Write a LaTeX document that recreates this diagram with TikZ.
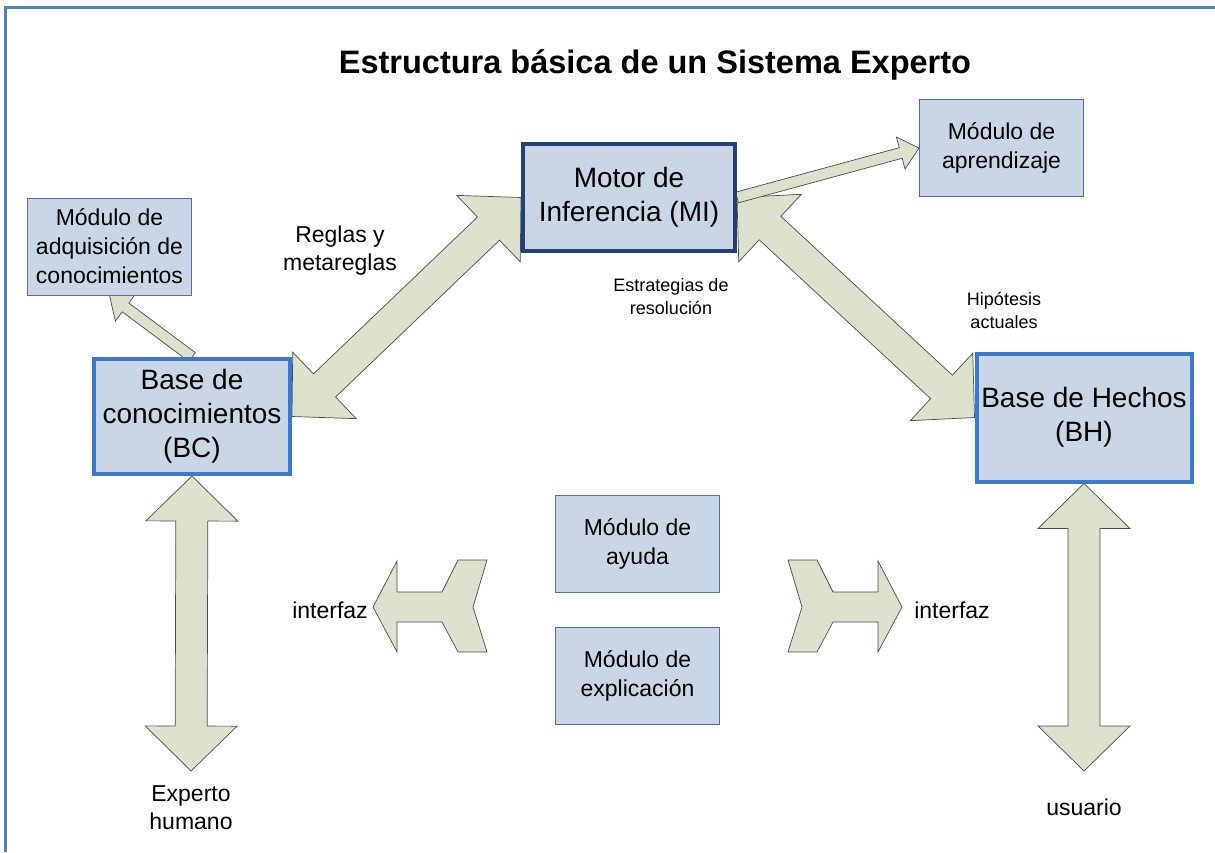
\documentclass[tikz,border=0pt]{standalone}
\usepackage{fontspec}
\setmainfont{Liberation Sans}
\usepackage{tikz}
\usetikzlibrary{calc,backgrounds,positioning}
\definecolor{modfill}{RGB}{201,214,230}
\definecolor{modline}{RGB}{79,112,160}
\definecolor{miline}{RGB}{36,64,116}
\definecolor{baseline}{RGB}{58,121,205}
\definecolor{arrowfill}{RGB}{221,225,203}
\definecolor{frameline}{RGB}{79,129,189}
\tikzset{
  module/.style={draw=modline, fill=modfill, line width=0.9pt, minimum width=164pt, minimum height=97pt, align=center, inner sep=0pt, font=\fontsize{23}{29}\selectfont},
  mainbox/.style={draw=#1, fill=modfill, line width=4pt, align=center, inner sep=0pt, font=\fontsize{28}{34}\selectfont},
  blockarrow/.style={draw=black!70, fill=arrowfill, line width=0.7pt, line join=miter},
  lbl/.style={align=center, inner sep=0pt, font=\fontsize{23}{28}\selectfont},
  smalllbl/.style={align=center, inner sep=0pt, font=\fontsize{18}{23}\selectfont},
}
% block arrow with two heads: #1,#2 tips, #3 half shaft, #4 half head, #5 head length
\newcommand\dblarrow[5]{%
  \path ($(#1)!#5!(#2)$) coordinate (da) ($(#2)!#5!(#1)$) coordinate (db);
  \draw[blockarrow] (#1) -- ($(da)!#4!90:(#2)$) -- ($(da)!#3!90:(#2)$)
    -- ($(db)!#3!-90:(#1)$) -- ($(db)!#4!-90:(#1)$) -- (#2)
    -- ($(db)!#4!90:(#1)$) -- ($(db)!#3!90:(#1)$)
    -- ($(da)!#3!-90:(#2)$) -- ($(da)!#4!-90:(#2)$) -- cycle;}
% block arrow with one head at #2
\newcommand\sglarrow[5]{%
  \path ($(#2)!#5!(#1)$) coordinate (db);
  \draw[blockarrow] ($(#1)!#3!90:(#2)$) -- ($(db)!#3!-90:(#1)$)
    -- ($(db)!#4!-90:(#1)$) -- (#2) -- ($(db)!#4!90:(#1)$)
    -- ($(db)!#3!90:(#1)$) -- ($(#1)!#3!-90:(#2)$) -- cycle;}

\begin{document}
\begin{tikzpicture}[x=1pt, y=-1pt]
      \useasboundingbox (0,0) rectangle (1215,852);
      \draw[frameline, line width=3pt] (5,852) -- (5,7) -- (1215,7);

      \node[font=\fontsize{32.5}{38}\selectfont\bfseries] (title) at (655,65) {Estructura básica de un Sistema Experto};

      \node[mainbox=miline, minimum width=212pt, minimum height=107pt] (mi) at (629,197.5) {Motor de\\Inferencia (MI)};
      \node[mainbox=baseline, minimum width=196pt, minimum height=115pt] (bc) at (192,416.5) {Base de\\conocimientos\\(BC)};
      \node[mainbox=baseline, minimum width=215pt, minimum height=128pt] (bh) at (1084,417.5) {Base de Hechos\\(BH)};

      \node[module] (adq) at (109.5,246.5) {Módulo de\\adquisición de\\conocimientos};
      \node[module] (apr) at (1001.5,148) {Módulo de\\aprendizaje};
      \node[module] (ayuda) at (637.5,544) {Módulo de\\ayuda};
      \node[module] (expl) at (637.5,675.5) {Módulo de\\explicación};

      \node[lbl] (reglas) at (340,251) {Reglas y\\metareglas};
      \node[smalllbl] (estrat) at (671,297) {Estrategias de\\resolución};
      \node[smalllbl] (hipot) at (1004,310) {Hipótesis\\actuales};
      \node[lbl] (intizq) at (330,610) {interfaz};
      \node[lbl] (intder) at (952,610) {interfaz};
      \node[lbl] (experto) at (191,808) {Experto\\humano};
      \node[lbl] (usuario) at (1084,807) {usuario};

      \coordinate (bcfoot) at (191,771);
      \coordinate (bhfoot) at (1084,771);

      \begin{scope}[on background layer]
        \dblarrow{bc.east}{mi.west}{16pt}{46pt}{45pt}
        \dblarrow{mi.east}{bh.west}{16pt}{46pt}{45pt}
        \dblarrow{bc.south}{bcfoot}{16pt}{46pt}{45pt}
        \dblarrow{bh.south}{bhfoot}{16pt}{46pt}{45pt}
        \sglarrow{bc.north}{adq.south}{5.5pt}{17pt}{20pt}
        \sglarrow{mi.east}{apr.west}{5.5pt}{16.5pt}{19pt}
      \end{scope}

      % interfaz arrows, the right one mirrored
      \foreach \cx/\s in {430/1, 845/-1} {
        \draw[blockarrow, shift={(\cx,607)}, xscale=\s] (-57,0) -- (-33,-46) -- (-33,-15) -- (12,-15) -- (28,-47) -- (57,-47)
          -- (43,0) -- (57,45) -- (28,45) -- (12,15) -- (-33,15) -- (-33,45) -- cycle;
      }
    \end{tikzpicture}
\end{document}
